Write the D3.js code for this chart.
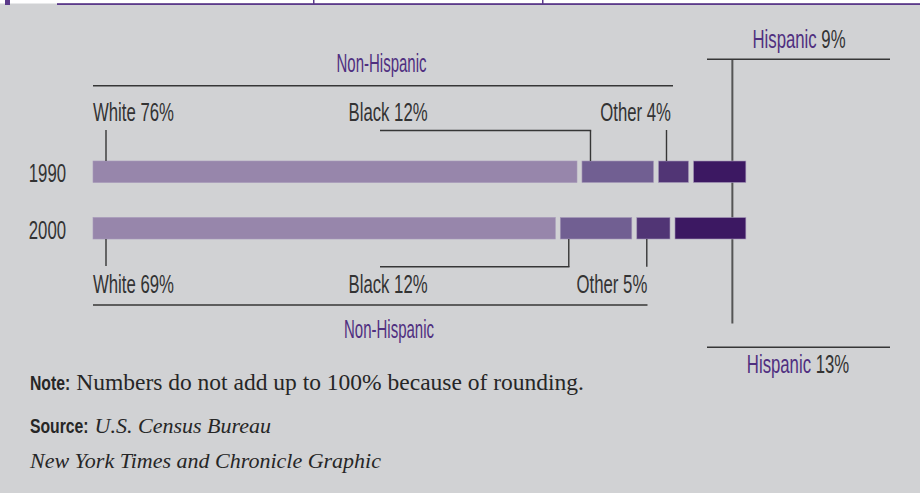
<!DOCTYPE html>
<html>
<head>
<meta charset="utf-8">
<script src="https://cdn.jsdelivr.net/npm/d3@7"></script>
<style>
  body { margin: 0; background: #d1d2d4; }
  svg { display: block; }
</style>
</head>
<body>
<div id="chart"></div>
<script>
var years = ["1990", "2000"];
var groups = ["White", "Black", "Other", "Hispanic"];
// bar lengths as drawn (share of the bar, %)
var bars1990 = [75.8, 11.2, 4.7, 8.2];
var bars2000 = [72.4, 11.2, 5.2, 11.1];
// printed percentages
var labels1990 = [76, 12, 4, 9];
var labels2000 = [69, 12, 5, 13];
var colors = ["#9786ab", "#715f92", "#513575", "#3c1862"];

var width = 920, height = 493;
var left = 93, gap = 5;

var svg = d3.select("#chart").append("svg")
    .attr("width", width)
    .attr("height", height);

svg.append("rect").attr("width", width).attr("height", height).attr("fill", "#d1d2d4");

// top strip
svg.append("rect").attr("width", width).attr("height", 3.5).attr("fill", "#ffffff");
svg.append("rect").attr("x", 57).attr("y", 3.2).attr("width", width - 57).attr("height", 1.8).attr("fill", "#5b3a8a");
svg.append("rect").attr("x", 5).attr("y", 0).attr("width", 5).attr("height", 5).attr("fill", "#5b3a8a");
svg.append("rect").attr("x", 313).attr("y", 0).attr("width", 1.5).attr("height", 4).attr("fill", "#5b3a8a");
svg.append("rect").attr("x", 542).attr("y", 0).attr("width", 1.5).attr("height", 4).attr("fill", "#5b3a8a");

var x = d3.scaleLinear().domain([0, 100]).range([0, 638.5]);
var y = d3.scaleBand().domain(years).range([161, 239]).paddingInner(0.62);

function segments(vals) {
  var acc = 0;
  return vals.map(function(v, i) {
    var s = { group: groups[i], i: i, x0: left + x(acc) + i * gap, w: x(v) };
    acc += v;
    s.x1 = s.x0 + s.w;
    return s;
  });
}
var seg = { "1990": segments(bars1990), "2000": segments(bars2000) };

var ink = "#363636";
function line(x1, y1, x2, y2, w, c) {
  svg.append("line")
    .attr("x1", x1).attr("y1", y1).attr("x2", x2).attr("y2", y2)
    .attr("stroke", c || ink).attr("stroke-width", w || 1.4);
}
function label(txt, px, py, anchor, color, sx) {
  return svg.append("text")
    .attr("transform", "translate(" + px + "," + py + ") scale(" + (sx || 0.67) + ",1)")
    .attr("text-anchor", anchor || "start")
    .style("font-family", "'Liberation Sans', Arial, sans-serif")
    .style("font-size", "25px")
    .attr("fill", color || "#333333")
    .text(txt);
}
var purple = "#4f2f80";

// Hispanic vertical (behind bars)
var hx = seg["1990"][3].x1 - 13.5;
line(hx, 59.3, hx, 323.5, 2, "#555555");

// bars
years.forEach(function(yr) {
  svg.selectAll(".bar" + yr)
    .data(seg[yr])
    .enter().append("rect")
      .attr("x", function(d) { return d.x0; })
      .attr("y", y(yr))
      .attr("width", function(d) { return d.w; })
      .attr("height", y.bandwidth())
      .attr("fill", function(d) { return colors[d.i]; })
      .attr("stroke", "#a597b8")
      .attr("stroke-width", 0.6);
});

// year labels
years.forEach(function(yr) {
  label(yr, 66, y(yr) + y.bandwidth() - 0.5, "end");
});

// 1990 annotations (above)
var s90 = seg["1990"], yTop = y("1990");
label("Non-Hispanic", 381.5, 72, "middle", purple, 0.6);
line(left, 85.7, 673, 85.7);
label("White " + labels1990[0] + "%", left, 120.7);
line(left + 13, 130, left + 13, yTop);
label("Black " + labels1990[1] + "%", 348.5, 120.7);
var bx = s90[1].x0 + 8.5;
line(380, 130.5, bx + 0.7, 130.5);
line(bx, 130.5, bx, yTop);
var ox = s90[2].x0 + 8;
label("Other " + labels1990[2] + "%", 671, 120.7, "end");
line(ox, 130, ox, yTop);
var h9 = label("", 799, 48, "middle");
h9.append("tspan").attr("fill", purple).text("Hispanic ");
h9.append("tspan").text(labels1990[3] + "%");
line(707, 59.3, 890, 59.3);

// 2000 annotations (below)
var s00 = seg["2000"], yBot = y("2000") + y.bandwidth();
line(left + 13, yBot, left + 13, 266);
label("White " + labels2000[0] + "%", left, 293.3);
var bx2 = s00[1].x0 + 8.5;
line(bx2, yBot, bx2, 266.7);
line(380, 266.7, bx2 + 0.7, 266.7);
label("Black " + labels2000[1] + "%", 348.5, 293.3);
var ox2 = s00[2].x0 + 10;
line(ox2, yBot, ox2, 266.7);
label("Other " + labels2000[2] + "%", ox2 + 0.5, 293.3, "end");
line(left, 305, ox2 + 0.7, 305);
label("Non-Hispanic", 389, 338.3, "middle", purple, 0.6);
line(707, 347.3, 890, 347.3);
var h13 = label("", 798, 373.3, "middle");
h13.append("tspan").attr("fill", purple).text("Hispanic ");
h13.append("tspan").text(labels2000[3] + "%");

// note and source
function foot(py, bold, rest, italic, size) {
  var g = svg.append("g");
  var b = g.append("text")
    .attr("transform", "translate(30," + py + ") scale(0.75,1)")
    .style("font-family", "'Liberation Sans', Arial, sans-serif")
    .style("font-weight", "bold")
    .style("font-size", "21px")
    .attr("fill", "#262626")
    .text(bold);
  var bw = b.node().getComputedTextLength() * 0.75;
  g.append("text")
    .attr("x", 30 + bw + 6).attr("y", py)
    .style("font-family", "'Liberation Serif', 'Times New Roman', serif")
    .style("font-size", size + "px")
    .style("font-style", italic ? "italic" : "normal")
    .attr("fill", "#262626")
    .text(rest);
}
foot(389.5, "Note:", "Numbers do not add up to 100% because of rounding.", false, 23.5);
foot(432.5, "Source:", "U.S. Census Bureau", true, 22);
svg.append("text")
  .attr("x", 30).attr("y", 468)
  .style("font-family", "'Liberation Serif', 'Times New Roman', serif")
  .style("font-size", "22px")
  .style("font-style", "italic")
  .attr("fill", "#262626")
  .text("New York Times and Chronicle Graphic");
</script>
</body>
</html>
